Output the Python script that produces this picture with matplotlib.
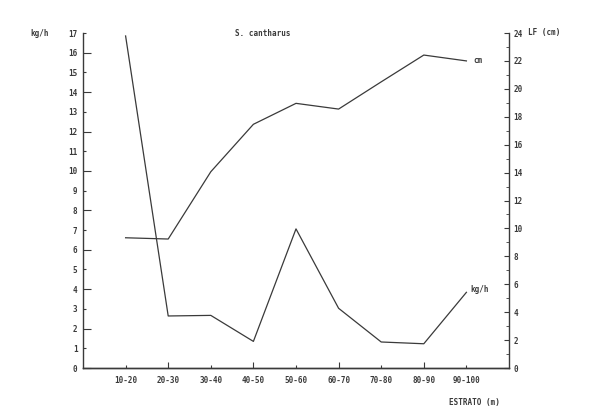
import matplotlib
matplotlib.use("Agg")
import matplotlib.pyplot as plt
from matplotlib.ticker import MultipleLocator

categories = ["10-20", "20-30", "30-40", "40-50", "50-60", "60-70", "70-80", "80-90", "90-100"]
kg_h = [16.85, 2.64, 2.67, 1.35, 7.06, 3.03, 1.32, 1.23, 3.84]
lf_cm = [9.33, 9.24, 14.06, 17.46, 18.96, 18.55, 20.5, 22.42, 22.0]
left_ticks = list(range(0, 18))
right_ticks = list(range(0, 25, 2))

ink = "#3a3a3a"
font = dict(family="DejaVu Sans Mono", fontweight="bold", color=ink)
fs = 5.5

fig = plt.figure(figsize=(6.0, 4.12), dpi=100)
ax = fig.add_axes([83/600, 44/412, (509-83)/600, (368-33)/412])
ax2 = ax.twinx()

x = list(range(1, len(categories) + 1))
ax.plot(x, kg_h, color=ink, lw=0.9)
ax2.plot(x, lf_cm, color=ink, lw=0.9)

ax.set_xlim(0, 10)
ax.set_ylim(0, 17)
ax2.set_ylim(0, 24)

for a in (ax, ax2):
    for s in a.spines.values():
        s.set_color(ink)
        s.set_linewidth(1.0)
    a.spines["top"].set_visible(False)
ax2.spines["left"].set_visible(False)
ax.spines["right"].set_visible(False)

ax.set_xticks(x)
ax.set_xticklabels(categories)
ax.tick_params(axis="x", direction="in", length=2.5, width=0.8, color=ink, pad=6)
ax.set_yticks(left_ticks)
ax.set_yticklabels([str(v) for v in left_ticks])
ax.tick_params(axis="y", direction="in", length=2.5, width=0.8, color=ink, pad=4)
ax2.set_yticks(right_ticks)
ax2.set_yticklabels([str(v) for v in right_ticks])
ax2.yaxis.set_minor_locator(MultipleLocator(1))
ax2.tick_params(axis="y", which="major", direction="in", length=3.5, width=0.8, color=ink, pad=3)
ax2.tick_params(axis="y", which="minor", direction="in", length=2, width=0.6, color=ink)

# longer ticks on even values, as in the original
for i, t in enumerate(ax.yaxis.get_major_ticks()):
    if left_ticks[i] % 2 == 0:
        t.tick1line.set_markersize(5.5)
for i, t in enumerate(ax.xaxis.get_major_ticks()):
    if x[i] % 2 == 0:
        t.tick1line.set_markersize(4.5)

for lab in ax.get_xticklabels() + ax.get_yticklabels() + ax2.get_yticklabels():
    lab.set_fontfamily("DejaVu Sans Mono")
    lab.set_fontweight("bold")
    lab.set_fontsize(fs)
    lab.set_color(ink)

fig.text(30/600, 1 - 33/412, "kg/h", fontsize=fs, va="center", ha="left", **font)
fig.text(528/600, 1 - 33/412, "LF (cm)", fontsize=fs, va="center", ha="left", **font)
fig.text(263/600, 1 - 34/412, "S. cantharus", fontsize=fs, va="center", ha="center", **font)
fig.text(474/600, 1 - 403/412, "ESTRATO (m)", fontsize=fs, va="center", ha="center", **font)
ax2.annotate("cm", xy=(x[-1], lf_cm[-1]), xytext=(5, 0), textcoords="offset points",
             fontsize=fs, va="center", ha="left", **font)
ax.annotate("kg/h", xy=(x[-1], kg_h[-1]), xytext=(3, 2), textcoords="offset points",
            fontsize=fs, va="center", ha="left", **font)

fig.savefig("out.png", dpi=100)
